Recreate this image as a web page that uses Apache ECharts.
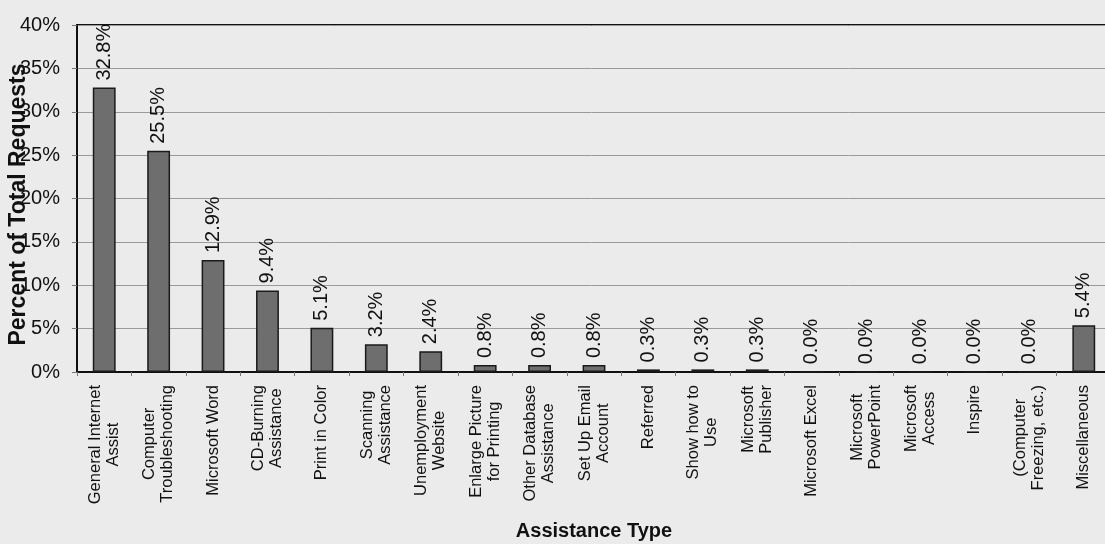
<!DOCTYPE html>
<html>
<head>
<meta charset="utf-8">
<style>
  html, body { margin: 0; padding: 0; background: #ebebeb; }
  #chart { width: 1105px; height: 544px; }
</style>
<script src="https://cdn.jsdelivr.net/npm/echarts@6/dist/echarts.min.js"></script>
</head>
<body>
<div id="chart"></div>
<script>
// Assistance categories (line breaks as printed under the axis)
const categories = [
  'General Internet\nAssist',
  'Computer\nTroubleshooting',
  'Microsoft Word',
  'CD-Burning\nAssistance',
  'Print in Color',
  'Scanning\nAssistance',
  'Unemployment\nWebsite',
  'Enlarge Picture\nfor Printing',
  'Other Database\nAssistance',
  'Set Up Email\nAccount',
  'Referred',
  'Show how to\nUse',
  'Microsoft\nPublisher',
  'Microsoft Excel',
  'Microsoft\nPowerPoint',
  'Microsoft\nAccess',
  'Inspire',
  '(Computer\nFreezing, etc.)',
  'Miscellaneous'
];

// Share of all requests, in percent
const percentOfRequests = [
  32.8, 25.5, 12.9, 9.4, 5.1, 3.2, 2.4, 0.8, 0.8, 0.8,
  0.3, 0.3, 0.3, 0.0, 0.0, 0.0, 0.0, 0.0, 5.4
];

// Value axis range
const yMin = 0;
const yMax = 40;
const yStep = 5;

const FONT = '"Liberation Sans", Arial, sans-serif';

const chart = echarts.init(document.getElementById('chart'), null, { renderer: 'canvas' });

chart.setOption({
  backgroundColor: '#ebebeb',
  animation: false,
  grid: {
    left: 77,
    top: 25,
    right: -6,
    bottom: 172,
    show: true,
    borderColor: '#111',
    borderWidth: 2,
    containLabel: false,
    outerBoundsMode: 'none'
  },
  xAxis: {
    type: 'category',
    data: categories,
    name: 'Assistance Type',
    nameLocation: 'middle',
    nameGap: 149,
    nameMoveOverlap: false,
    nameTextStyle: {
      fontFamily: FONT,
      fontSize: 20,
      fontWeight: 'bold',
      color: '#111'
    },
    axisLine: { show: true, lineStyle: { color: '#111', width: 2 } },
    axisTick: {
      show: true,
      alignWithLabel: false,
      length: 4,
      lineStyle: { color: '#777', width: 1 }
    },
    axisLabel: {
      interval: 0,
      rotate: 90,
      margin: 13,
      color: '#111',
      fontFamily: FONT,
      fontSize: 16.5,
      lineHeight: 18,
      formatter: function (value) {
        return value.split('\n').map(function (line) {
          return '{c|' + line + '}';
        }).join('\n');
      },
      rich: {
        c: {
          align: 'center',
          fontFamily: FONT,
          fontSize: 16.5,
          lineHeight: 18,
          color: '#111'
        }
      }
    },
    splitLine: { show: false }
  },
  yAxis: {
    type: 'value',
    min: yMin,
    max: yMax,
    interval: yStep,
    name: 'Percent of Total Requests',
    nameLocation: 'middle',
    nameGap: 47,
    nameMoveOverlap: false,
    nameTextStyle: {
      fontFamily: FONT,
      fontSize: 23,
      fontWeight: 'bold',
      color: '#111',
      padding: [0, 12, 0, 0]
    },
    axisLine: { show: true, lineStyle: { color: '#111', width: 2 } },
    axisTick: {
      show: true,
      length: 5,
      lineStyle: { color: '#777', width: 1 }
    },
    axisLabel: {
      margin: 17,
      color: '#111',
      fontFamily: FONT,
      fontSize: 20,
      formatter: '{value}%'
    },
    splitLine: {
      show: true,
      lineStyle: { color: '#9a9a9a', width: 1 }
    }
  },
  series: [
    {
      type: 'bar',
      data: percentOfRequests,
      barCategoryGap: '58%',
      itemStyle: {
        color: '#6e6e6e',
        borderColor: '#1a1a1a',
        borderWidth: 1.5
      },
      label: {
        show: true,
        position: 'top',
        rotate: 90,
        align: 'left',
        verticalAlign: 'middle',
        distance: 7,
        color: '#111',
        fontFamily: FONT,
        fontSize: 20,
        formatter: function (p) {
          return p.value.toFixed(1) + '%';
        }
      }
    }
  ]
});
</script>
</body>
</html>
